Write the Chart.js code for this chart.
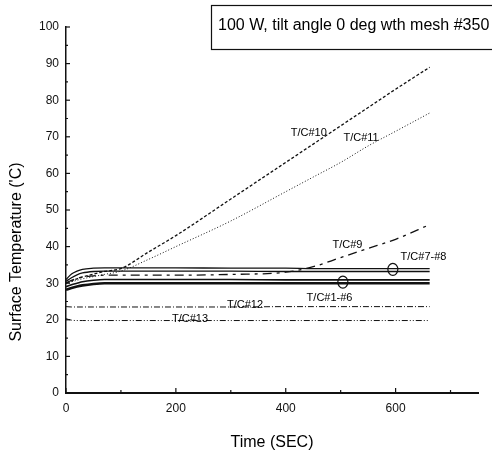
<!DOCTYPE html>
<html>
<head>
<meta charset="utf-8">
<script src="https://cdn.jsdelivr.net/npm/chart.js"></script>
<style>
  body { margin: 0; background: #fff; }
  #wrap { width: 492px; height: 455px; }
</style>
</head>
<body>
<div id="wrap"><canvas id="grafico" width="492" height="455"></canvas></div>
<script>
// ---- data (seconds / deg C)
var tempo = [0, 10, 20, 30, 50, 70, 100, 150, 200, 300, 400, 450, 500, 550, 600, 662];

var tc10  = [30, 30.6, 31.2, 31.7, 32.5, 33.2, 34, 38.5, 43, 53, 63, 68, 73, 78, 83, 89];
var tc11  = [30, 30.4, 30.8, 31.2, 31.8, 32.4, 33.3, 36.5, 40, 47, 55, 59, 63, 67.5, 71.5, 76.5];
var tc9   = [30, 30.8, 31.3, 31.7, 32, 32.2, 32.2, 32.2, 32.2, 32.4, 33, 34.5, 37, 39.5, 42, 46];
var tc7   = [31, 32.5, 33.3, 33.8, 34.1, 34.2, 34.2, 34.2, 34.2, 34.1, 34.1, 34, 34, 34, 34, 34];
var tc8   = [30.5, 31.5, 32.3, 32.8, 33.2, 33.3, 33.3, 33.3, 33.3, 33.3, 33.2, 33.2, 33.2, 33.2, 33.2, 33.2];
var tc1a  = [29, 29.6, 30, 30.4, 30.8, 31, 31, 31, 31, 31, 30.9, 30.9, 30.9, 30.9, 30.9, 30.9];
var tc1b  = [28.2, 28.7, 29.1, 29.4, 29.8, 30, 30, 30, 30, 30, 30, 30, 30, 30, 30, 30];
var tc12  = [23.6, 23.5, 23.5, 23.5, 23.5, 23.5, 23.5, 23.5, 23.5, 23.5, 23.6, 23.6, 23.6, 23.6, 23.6, 23.6];
var tc13  = [20.3, 19.9, 19.8, 19.8, 19.8, 19.8, 19.8, 19.8, 19.8, 19.8, 19.8, 19.8, 19.8, 19.8, 19.8, 19.8];

var ticksX = [0, 200, 400, 600];
var ticksY = [0, 10, 20, 30, 40, 50, 60, 70, 80, 90, 100];

var titulo = '100 W, tilt angle 0 deg wth mesh #350';
var tituloX = 'Time (SEC)';
var tituloY = "Surface Temperature ('C)";

function pontos(serie) {
    return tempo.map((t, i) => ({ x: t, y: serie[i] }));
}

function linha(serie, largura, traco) {
    return {
        data: pontos(serie),
        borderColor: '#111',
        borderWidth: largura,
        borderDash: traco,
        pointRadius: 0,
        fill: false,
        cubicInterpolationMode: 'monotone'
    };
}

// text labels and circles placed in data units
var rotulos = [
    { t: 'T/C#10', x: 409, y: 71 },
    { t: 'T/C#11', x: 505, y: 69.7 },
    { t: 'T/C#9', x: 485, y: 40.4 },
    { t: 'T/C#7-#8', x: 609, y: 37.2 },
    { t: 'T/C#1-#6', x: 438, y: 26 },
    { t: 'T/C#12', x: 293, y: 24 },
    { t: 'T/C#13', x: 193, y: 20.2 }
];
var circulos = [ { x: 504, y: 30.3 }, { x: 595, y: 33.8 } ];

var extras = {
    id: 'extras',
    afterDraw(chart) {
        var ctx = chart.ctx;
        var sx = chart.scales.x, sy = chart.scales.y;
        var a = chart.chartArea;
        ctx.save();
        ctx.strokeStyle = '#111';
        ctx.fillStyle = '#000';

        // inward ticks
        ctx.lineWidth = 1.2;
        for (var v = 0; v <= 750; v += 100) {
            var px = sx.getPixelForValue(v);
            var len = v % 200 === 0 ? 5 : 3;
            ctx.beginPath(); ctx.moveTo(px, a.bottom); ctx.lineTo(px, a.bottom - len); ctx.stroke();
        }
        for (var w = 0; w <= 100; w += 5) {
            var py = sy.getPixelForValue(w);
            var l2 = w % 10 === 0 ? 4 : 2;
            ctx.beginPath(); ctx.moveTo(a.left, py); ctx.lineTo(a.left + l2, py); ctx.stroke();
        }

        // labels on the curves
        ctx.font = '11px "Liberation Sans", Arial, sans-serif';
        ctx.textAlign = 'left';
        ctx.textBaseline = 'middle';
        rotulos.forEach(r => {
            ctx.fillText(r.t, sx.getPixelForValue(r.x), sy.getPixelForValue(r.y));
        });
        ctx.lineWidth = 1.2;
        circulos.forEach(c => {
            ctx.beginPath();
            ctx.ellipse(sx.getPixelForValue(c.x), sy.getPixelForValue(c.y), 5, 6, 0, 0, Math.PI * 2);
            ctx.stroke();
        });

        // title box
        ctx.lineWidth = 1.2;
        ctx.strokeRect(211.5, 5.5, 300, 44);
        ctx.font = '16px "Liberation Sans", Arial, sans-serif';
        ctx.fillText(titulo, 218, 26);

        // axis titles
        ctx.font = '16px "Liberation Sans", Arial, sans-serif';
        ctx.textAlign = 'center';
        ctx.fillText(tituloX, 272, 443);
        ctx.translate(17, 252);
        ctx.rotate(-Math.PI / 2);
        ctx.fillText(tituloY, 0, 0);
        ctx.restore();
    }
};

var contexto = document.getElementById('grafico').getContext('2d');
var grafico = new Chart(contexto, {
    type: 'line',
    data: {
        datasets: [
            linha(tc10, 1.3, [3, 2]),
            linha(tc11, 1, [1, 2]),
            linha(tc9, 1.3, [9, 5, 3, 5]),
            linha(tc7, 1.3, []),
            linha(tc8, 1.3, []),
            linha(tc1a, 1.6, []),
            linha(tc1b, 2.6, []),
            linha(tc12, 1, [6, 2, 1, 2]),
            linha(tc13, 1, [6, 2, 1, 2, 1, 2])
        ]
    },
    options: {
        responsive: false,
        animation: false,
        layout: { padding: { top: 27, right: 14, left: 0, bottom: 0 } },
        plugins: { legend: { display: false }, tooltip: { enabled: false } },
        scales: {
            x: {
                type: 'linear',
                min: 0,
                max: 750,
                afterFit: s => { s.height = 62; },
                grid: { display: false, drawTicks: false },
                border: { display: true, color: '#111', width: 2 },
                ticks: {
                    stepSize: 100,
                    padding: 8,
                    color: '#111',
                    maxRotation: 0,
                    autoSkip: false,
                    font: { family: '"Liberation Sans", Arial, sans-serif', size: 12 },
                    callback: v => ticksX.includes(v) ? v : ''
                }
            },
            y: {
                min: 0,
                max: 100,
                afterFit: s => { s.width = 66; },
                grid: { display: false, drawTicks: false },
                border: { display: true, color: '#111', width: 1.5 },
                ticks: {
                    stepSize: 5,
                    padding: 7,
                    color: '#111',
                    autoSkip: false,
                    font: { family: '"Liberation Sans", Arial, sans-serif', size: 12 },
                    callback: v => ticksY.includes(v) ? v : ''
                }
            }
        }
    },
    plugins: [extras]
});
</script>
</body>
</html>
